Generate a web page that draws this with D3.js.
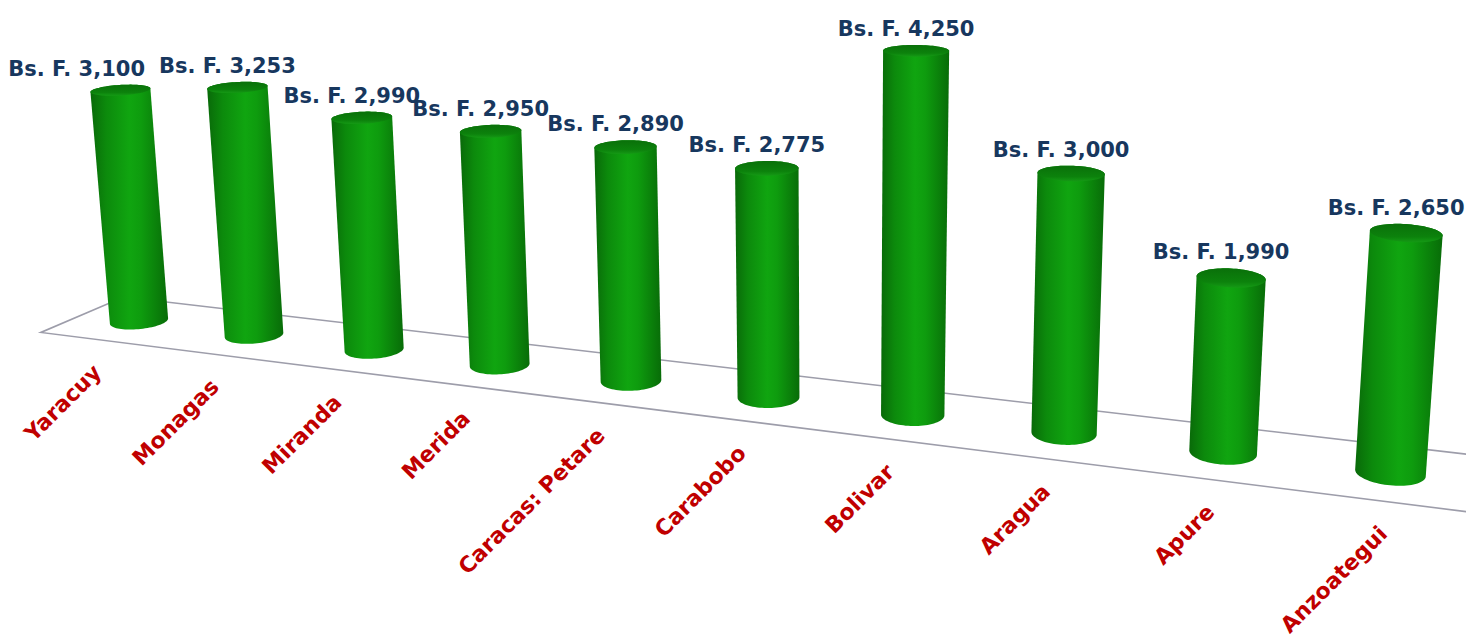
<!DOCTYPE html>
<html><head><meta charset="utf-8">
<script src="https://cdn.jsdelivr.net/npm/d3@7"></script>
<style>body{margin:0;background:#fff}</style>
</head><body><svg></svg>
<script>
const W = 1466, H = 641;

const states = ["Yaracuy", "Monagas", "Miranda", "Merida", "Caracas: Petare", "Carabobo", "Bolivar", "Aragua", "Apure", "Anzoategui"];
const salaries = [3100, 3253, 2990, 2950, 2890, 2775, 4250, 3000, 1990, 2650];

// camera for the 3d look (yaw, pitch, focal, distance, shift, principal point)
const cam = { yaw: 0.3378, pitch: 0.2301, f: 2059.8, dist: 13.8205, tx: -0.899, ty: -1.5534, cx: 832.98, cy: 157.34 };
const depth = 0.931;     // floor depth, in category widths
const radius = 0.205;    // cylinder radius, in category widths

function project(X, Y, Z) {
    const x1 = X * Math.cos(cam.yaw) + Z * Math.sin(cam.yaw);
    const z1 = -X * Math.sin(cam.yaw) + Z * Math.cos(cam.yaw);
    const yc = Y * Math.cos(cam.pitch) + z1 * Math.sin(cam.pitch);
    const zc = -Y * Math.sin(cam.pitch) + z1 * Math.cos(cam.pitch) + cam.dist;
    return [cam.cx + cam.f * (x1 + cam.tx) / zc, cam.cy - cam.f * (yc + cam.ty) / zc];
}

const svg = d3.select("svg")
    .attr("width", W)
    .attr("height", H)
    .style("display", "block");

const x = d3.scaleBand().domain(states).range([-5, 5]);
const y = d3.scaleLinear().domain([0, 1000]).range([0, 0.5628]);
const fmt = d3.format(",");

// floor
const floor = [[5, -depth / 2], [-5, -depth / 2], [-5, depth / 2], [5, depth / 2]].map(c => project(c[0], 0, c[1]));
svg.append("path")
    .attr("d", d3.line()(floor))
    .attr("fill", "none")
    .attr("stroke", "#9d9daa")
    .attr("stroke-width", 1.6);

const defs = svg.append("defs");
const body = defs.append("linearGradient").attr("id", "body");
[[0, "#096a09"], [0.2, "#0c8a0c"], [0.5, "#10a510"], [0.65, "#0e9c0e"], [1, "#086c08"]]
    .forEach(s => body.append("stop").attr("offset", s[0]).attr("stop-color", s[1]));
const cap = defs.append("linearGradient").attr("id", "cap").attr("x1", 0).attr("y1", 0).attr("x2", 0).attr("y2", 1);
[[0, "#0a700a"], [0.7, "#0c820c"], [1, "#159a15"]]
    .forEach(s => cap.append("stop").attr("offset", s[0]).attr("stop-color", s[1]));

const angles = d3.range(0, 2 * Math.PI, Math.PI / 40);

const bars = states.map((s, i) => {
    const cx = x(s) + x.bandwidth() / 2, h = y(salaries[i]);
    const bottom = angles.map(a => project(cx + radius * Math.cos(a), 0, radius * Math.sin(a)));
    const top = angles.map(a => project(cx + radius * Math.cos(a), h, radius * Math.sin(a)));
    return { state: s, value: salaries[i], cx, h, bottom, top };
});

const barG = svg.append("g");
barG.selectAll("path.body")
    .data(bars)
    .enter()
    .append("path")
    .attr("class", "body")
    .attr("d", d => "M" + d3.polygonHull(d.bottom.concat(d.top)).join("L") + "Z")
    .attr("fill", "url(#body)");

barG.selectAll("path.cap")
    .data(bars)
    .enter()
    .append("path")
    .attr("class", "cap")
    .attr("d", d => "M" + d.top.join("L") + "Z")
    .attr("fill", "url(#cap)");

// value labels above each cylinder
const labelY = bars.map(d => d3.min(d.top, p => p[1]) - 9);
const valueLabels = svg.append("g")
    .selectAll("text")
    .data(bars)
    .enter()
    .append("text")
    .attr("text-anchor", "middle")
    .attr("font-family", "DejaVu Sans")
    .attr("font-weight", "bold")
    .attr("font-size", 21)
    .attr("fill", "#17375e")
    .attr("y", (d, i) => labelY[i])
    .text(d => "Bs. F. " + fmt(d.value));

// push a label left when it would run into its neighbour on the same line
const nodes = valueLabels.nodes();
const pos = bars.map(d => d3.mean(d.top, p => p[0]) - 10);
const widths = nodes.map(n => n.getComputedTextLength());
for (let i = bars.length - 2; i >= 0; i--) {
    if (Math.abs(labelY[i] - labelY[i + 1]) > 10) continue;
    const limit = pos[i + 1] - widths[i + 1] / 2 - 14;
    if (pos[i] + widths[i] / 2 > limit) pos[i] = limit - widths[i] / 2;
}
valueLabels.attr("x", (d, i) => pos[i]);

// category labels along the front edge
svg.append("g")
    .selectAll("text")
    .data(bars)
    .enter()
    .append("text")
    .attr("transform", d => {
        const p = project(d.cx, 0, -depth / 2);
        return `translate(${p[0] + 5}, ${p[1] + 34}) rotate(-45)`;
    })
    .attr("text-anchor", "end")
    .attr("font-family", "DejaVu Sans")
    .attr("font-weight", "bold")
    .attr("font-size", 22)
    .attr("fill", "#c00000")
    .text(d => d.state);
</script></body></html>
